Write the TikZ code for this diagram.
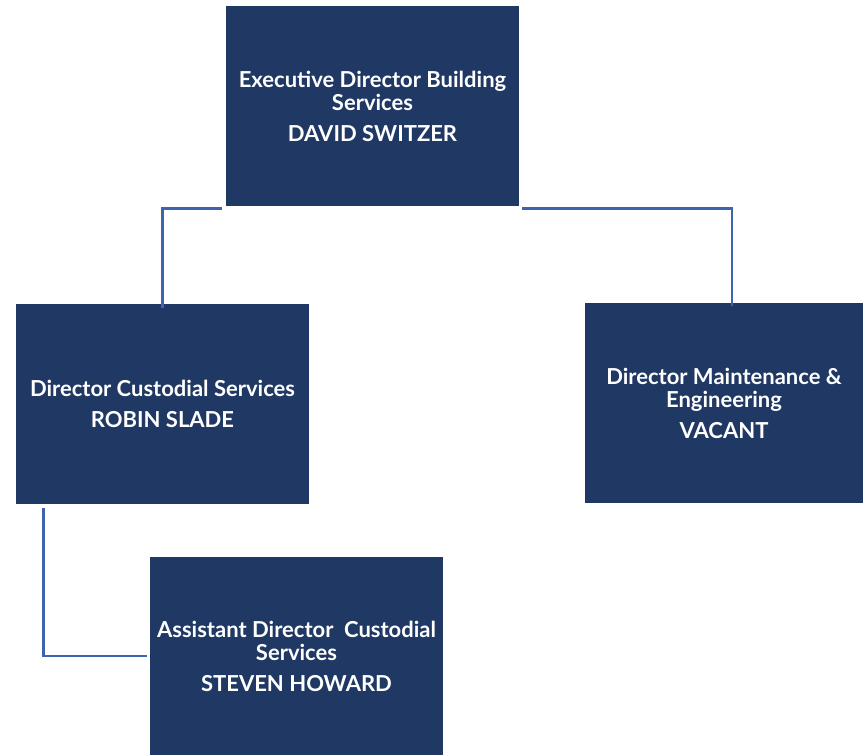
\documentclass[tikz,border=0pt]{standalone}
\usepackage{fontspec}
\setmainfont{Lato}
\usepackage{tikz}
\usetikzlibrary{positioning,calc}
\definecolor{boxnavy}{HTML}{203864}
\definecolor{linkblue}{HTML}{3F64AE}
\tikzset{
  orgbox/.style={fill=boxnavy,text=white,minimum width=293pt,minimum height=200pt,
    align=center,font=\bfseries\fontsize{22}{23}\selectfont,inner sep=0pt},
  orglink/.style={draw=linkblue,line width=2.8pt}
}
\begin{document}
\begin{tikzpicture}[x=1pt,y=-1pt]
\useasboundingbox (0,0) rectangle (864,755);
\node[orgbox] (exec) at (372.5,106) {Executive Director Building\\Services\\[8pt]DAVID SWITZER};
\node[orgbox] (cust) at (162.5,404) {Director Custodial Services\\[8pt]ROBIN SLADE};
\node[orgbox,minimum width=278pt] (maint) at (724,403) {Director Maintenance \&\\Engineering\\[8pt]VACANT};
\node[orgbox,minimum height=198pt] (asst) at (296.5,656) {Assistant Director~~Custodial\\Services\\[8pt]STEVEN HOWARD};
\coordinate (custtop) at ([yshift=-4pt]cust.north);
\coordinate (mainttop) at ([xshift=8pt,yshift=-3pt]maint.north);
\draw[orglink] (custtop) |- ([xshift=-4pt,yshift=-2pt]exec.south west);
\draw[orglink] ([xshift=3pt,yshift=-2pt]exec.south east) -| (mainttop);
\draw[orglink] ([xshift=28pt,yshift=-4pt]cust.south west) |- ([xshift=-3pt]asst.west);
\end{tikzpicture}
\end{document}
